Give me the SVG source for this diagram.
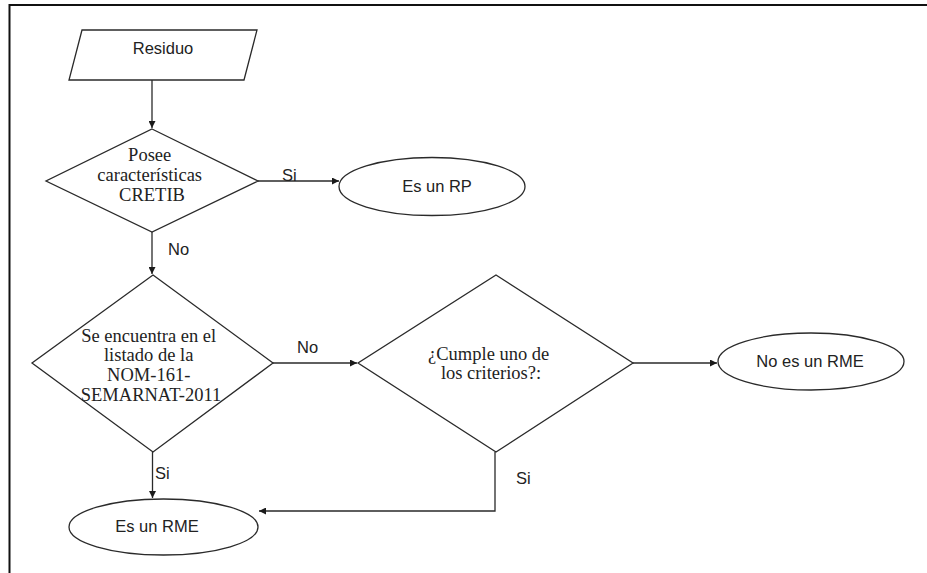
<svg xmlns="http://www.w3.org/2000/svg" width="927" height="573" viewBox="0 0 927 573">
  <style>
    .shape { fill: #ffffff; stroke: #2a2a2a; stroke-width: 1.3; }
    .edge { fill: none; stroke: #2a2a2a; stroke-width: 1.3; }
    .sans { font-family: "Liberation Sans", Arial, sans-serif; font-size: 16.5px; fill: #222222; }
    .serif { font-family: "Liberation Serif", "Times New Roman", serif; font-size: 18.5px; fill: #222222; }
    .frame { fill: none; stroke: #111111; stroke-width: 2; }
  </style>
  <defs>
    <marker id="arrow" viewBox="0 0 10 10" refX="10" refY="5" markerWidth="7" markerHeight="7" markerUnits="userSpaceOnUse" orient="auto">
      <path d="M0,0 L10,5 L0,10 z" fill="#1a1a1a"/>
    </marker>
  </defs>

  <rect width="927" height="573" fill="#ffffff"/>
  <!-- page frame: top and left edges -->
  <path class="frame" d="M9.5,573 V5 H927"/>

  <!-- connectors -->
  <g id="connectors">
    <path class="edge" d="M152,80 V128" marker-end="url(#arrow)"/>
    <path class="edge" d="M258,181 H339" marker-end="url(#arrow)"/>
    <path class="edge" d="M152,232 V274" marker-end="url(#arrow)"/>
    <path class="edge" d="M273,363 H357" marker-end="url(#arrow)"/>
    <path class="edge" d="M633,363 H717" marker-end="url(#arrow)"/>
    <path class="edge" d="M152.5,452 V498" marker-end="url(#arrow)"/>
    <path class="edge" d="M495,452 V511 H259" marker-end="url(#arrow)"/>
    <text class="sans" x="282" y="181">Si</text>
    <text class="sans" x="168" y="255">No</text>
    <text class="sans" x="297" y="353">No</text>
    <text class="sans" x="155" y="479">Si</text>
    <text class="sans" x="516" y="484">Si</text>
  </g>

  <g id="residuo">
    <polygon class="shape" points="82,30 257,30 244,80 69,80"/>
    <text class="sans" x="163" y="54" text-anchor="middle">Residuo</text>
  </g>

  <g id="cretib">
    <polygon class="shape" points="152,129 258,181 152,232 46,181"/>
    <text class="serif" text-anchor="middle">
      <tspan x="152" y="161">Posee</tspan>
      <tspan x="152" y="181">características</tspan>
      <tspan x="152" y="201">CRETIB</tspan>
    </text>
  </g>

  <g id="es-rp">
    <ellipse class="shape" cx="432" cy="186.5" rx="93" ry="29"/>
    <text class="sans" x="437" y="192" text-anchor="middle">Es un RP</text>
  </g>

  <g id="listado">
    <polygon class="shape" points="153,275 273,363 153,452 32,363"/>
    <text class="serif" text-anchor="middle">
      <tspan x="151" y="342">Se encuentra en el</tspan>
      <tspan x="151" y="361">listado de la</tspan>
      <tspan x="151" y="381">NOM-161-</tspan>
      <tspan x="151" y="401">SEMARNAT-2011</tspan>
    </text>
  </g>

  <g id="criterios">
    <polygon class="shape" points="496,275 633,363 496,452 358,363"/>
    <text class="serif" text-anchor="middle">
      <tspan x="491" y="360">¿Cumple uno de</tspan>
      <tspan x="491" y="379">los criterios?:</tspan>
    </text>
  </g>

  <g id="no-rme">
    <ellipse class="shape" cx="811" cy="361.5" rx="93" ry="28.5"/>
    <text class="sans" x="810" y="367" text-anchor="middle">No es un RME</text>
  </g>

  <g id="es-rme">
    <ellipse class="shape" cx="163.5" cy="527" rx="94.5" ry="28"/>
    <text class="sans" x="157" y="532" text-anchor="middle">Es un RME</text>
  </g>
</svg>
